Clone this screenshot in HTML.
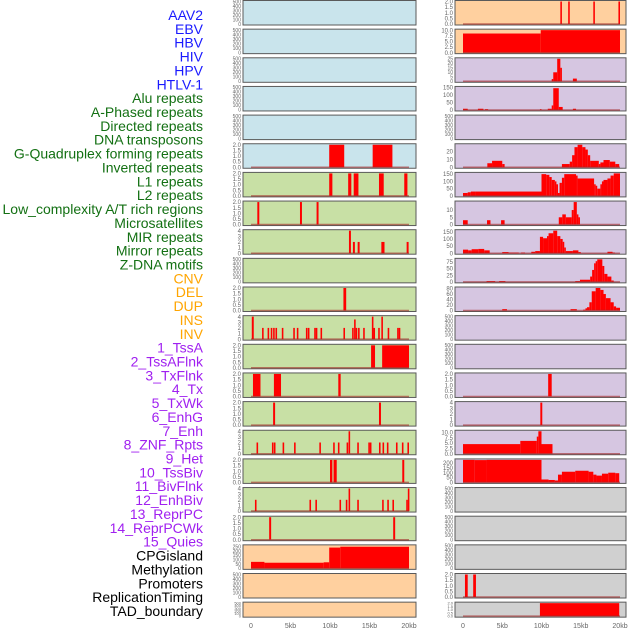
<!DOCTYPE html>
<html><head><meta charset="utf-8">
<style>
html,body{margin:0;padding:0;background:#fff;width:630px;height:630px;overflow:hidden}
svg{display:block}
</style></head>
<body>
<svg id="chart" width="630" height="630" viewBox="0 0 630 630" xmlns="http://www.w3.org/2000/svg"></svg>
<script>
const trackLabels = ["AAV2","EBV","HBV","HIV","HPV","HTLV-1","Alu repeats","A-Phased repeats","Directed repeats","DNA transposons","G-Quadruplex forming repeats","Inverted repeats","L1 repeats","L2 repeats","Low_complexity A/T rich regions","Microsatellites","MIR repeats","Mirror repeats","Z-DNA motifs","CNV","DEL","DUP","INS","INV","1_TssA","2_TssAFlnk","3_TxFlnk","4_Tx","5_TxWk","6_EnhG","7_Enh","8_ZNF_Rpts","9_Het","10_TssBiv","11_BivFlnk","12_EnhBiv","13_ReprPC","14_ReprPCWk","15_Quies","CPGisland","Methylation","Promoters","ReplicationTiming","TAD_boundary"];
const labelGroups = ["v","v","v","v","v","v","r","r","r","r","r","r","r","r","r","r","r","r","r","s","s","s","s","s","c","c","c","c","c","c","c","c","c","c","c","c","c","c","c","o","o","o","o","o"];
const xTickKb = [0,5,10,15,20];
const xTickLabels = ["0","5kb","10kb","15kb","20kb"];

// panel groups (background) per panel, left column then right column
const leftGroups = ["v","v","v","v","v","v","r","r","r","r","r","r","r","r","r","r","r","r","r","s","s","s"];
const rightGroups = ["s","s","c","c","c","c","c","c","c","c","c","c","c","c","c","c","c","o","o","o","o","o"];

// y-axis maxima and tick values
const leftYMax = [500,500,500,500,500,2,2,2,4,500,2,4,2,2,2,4,2,4,2,260,500,500];
const rightYMax = [2,10,25,150,500,28,155,15.5,158,85,82,500,500,2,4,10.5,232,500,500,500,2,2];
const T500=[0,100,200,300,400,500], T2=[0,0.5,1,1.5,2], T4=[0,1,2,3,4];
const leftTicks = [T500,T500,T500,T500,T500,T2,T2,T2,T4,T500,T2,T4,T2,T2,T2,T4,T2,T4,T2,[0,50,100,150,200,250],T500,T500];
const rightTicks = [T2,[0,2.5,5,7.5,10],[0,5,10,15,20,25],[0,50,100,150],T500,[0,10,20],[0,50,100,150],[0,5,10],[0,50,100,150],[0,25,50,75],[0,20,40,60,80],T500,T500,T2,T4,[0,2.5,5,7.5,10],[0,50,100,150,200],T500,T500,T500,T2,T2];

// segments: [startKb, endKb, value]
const L5=[[9.9,11.8,2],[15.4,17.9,2]];
const L6=[[9.9,10.3,2],[12.3,12.7,2],[13.0,13.6,2],[16.2,16.8,2],[19.4,19.8,2]];
const L7=[[0.8,1.05,2],[6.2,6.45,2],[8.3,8.55,2]];
const L8=[[12.4,12.65,4],[12.9,13.15,2],[13.5,13.75,2],[16.5,16.9,2],[19.7,19.95,2]];
const L10=[[11.7,12.05,2]];
const L11=[[0.1,0.35,4],[1.4,1.6,2],[2.1,2.3,2],[2.5,2.7,2],[2.8,3.0,2],[3.1,3.3,2],[3.9,4.1,2],[5.35,5.55,2],[5.8,6.0,2],[6.95,7.15,2],[7.2,7.4,2],[8.0,8.2,2],[8.2,8.4,2],[8.8,9.0,2],[11.7,11.9,2],[12.8,13.0,2],[13.05,13.25,3.5],[13.25,13.45,2],[13.55,13.75,2],[14.2,14.4,2],[15.3,15.5,4],[15.5,15.7,2],[16.1,16.3,2],[16.5,16.7,4],[17.3,17.5,2],[18.5,18.7,2],[18.7,18.9,2]];
const L12=[[15.2,15.7,2],[16.6,20.0,2]];
const L13=[[0.25,1.2,2],[2.9,3.8,2],[11.05,11.35,2]];
const L14=[[2.8,3.05,2],[16.2,16.45,2]];
const L15=[[0.7,0.9,2],[2.65,2.85,2],[2.9,3.1,2],[4.0,4.2,2],[5.45,5.65,2],[8.65,8.85,2],[10.4,10.6,2],[11.0,11.2,2],[12.1,12.3,2],[12.35,12.55,4],[13.45,13.65,2],[14.85,15.05,2],[15.05,15.25,2],[16.2,16.4,2],[16.65,16.85,2],[17.2,17.4,2],[18.35,18.55,2],[19.1,19.3,2],[19.8,20.0,2]];
const L16=[[10.0,10.3,2],[10.45,10.85,2],[19.15,19.4,2]];
const L17=[[0.5,0.7,2],[7.4,7.6,2],[8.15,8.35,2],[11.2,11.4,2],[12.0,12.2,2],[12.35,12.55,4],[13.45,13.65,2],[16.6,16.8,2],[17.25,17.45,2],[17.9,18.1,2],[19.65,19.85,2],[19.85,20.05,4]];
const L18=[[2.3,2.55,2],[18.0,18.25,2]];
const L19=[[0,1.7,75],[1.7,9.2,65],[9.2,9.9,70],[9.9,11.3,240],[11.3,20,250]];
const R0=[[12.4,12.6,2],[13.4,13.6,2],[16.6,16.8,2],[19.8,20.0,2]];
const R1=[[0,9.9,8.5],[9.9,20,10]];
const R2=[[11.3,11.5,2.5],[11.5,12.0,10],[12.0,12.4,25],[12.4,12.6,15],[14.0,14.5,3]];
const R3=[[0,0.6,8],[1.9,2.6,8],[2.8,3.2,5],[9.8,10.0,5],[10.8,11.3,8],[11.3,11.5,30],[11.5,12.2,145],[12.2,12.7,20],[14.0,14.4,8]];
const R5=[[3.1,3.7,5],[3.7,5.0,8],[5.0,5.3,4],[12.6,13.6,4],[13.6,13.9,7],[13.9,14.2,15],[14.2,14.6,25],[14.6,15.2,28],[15.2,15.6,25],[15.6,15.9,22],[15.9,16.2,15],[16.2,17.3,8],[17.3,17.5,4],[17.5,17.9,6],[17.9,18.7,9],[18.7,19.4,7],[19.4,19.9,4]];
const R6=[[0,0.6,20],[0.6,1.0,25],[1.0,1.6,30],[1.6,10.0,30],[10.0,10.6,150],[10.6,11.0,145],[11.0,11.3,130],[11.3,11.7,110],[11.7,11.9,100],[11.9,12.1,80],[12.1,12.3,20],[12.3,12.6,90],[12.6,12.9,125],[12.9,14.4,150],[14.4,14.6,140],[14.6,16.7,120],[16.7,16.9,80],[16.9,17.1,70],[17.1,17.5,50],[17.5,17.7,80],[17.7,17.9,100],[17.9,18.4,110],[18.4,18.8,120],[18.8,19.2,140],[19.2,20,155]];
const R7=[[0,0.6,3],[3.06,3.5,3],[4.85,5.3,3],[12.2,12.65,5],[12.65,13.1,7],[13.1,13.85,5],[13.85,14.1,10],[14.1,14.5,16],[14.5,14.7,7],[14.7,14.9,5]];
const R8=[[0,0.65,25],[0.65,1.1,20],[1.1,1.95,28],[1.95,2.7,30],[2.7,3.4,20],[5.0,5.8,8],[5.8,7.1,5],[7.4,7.9,5],[8.7,9.2,10],[9.2,9.8,15],[9.8,10.2,115],[10.2,10.7,105],[10.7,10.9,120],[10.9,11.5,140],[11.5,12.0,160],[12.0,12.4,120],[12.4,12.7,100],[12.7,12.9,80],[12.9,13.1,40],[13.1,14.0,15],[14.0,14.7,20],[14.7,15.0,8],[18.4,19.05,10],[19.05,19.35,5]];
const R9=[[3.0,4.1,3],[4.6,5.4,3],[14.3,14.9,3],[14.9,16.2,8],[16.2,16.45,20],[16.45,16.7,45],[16.7,16.9,70],[16.9,17.1,78],[17.1,17.75,85],[17.75,18.0,60],[18.0,18.4,30],[18.4,18.9,20],[18.9,19.2,5]];
const R10=[[5.0,5.6,5],[13.7,14.5,5],[15.3,15.6,3],[15.6,15.8,8],[15.8,16.1,12],[16.1,16.4,30],[16.4,16.9,70],[16.9,17.5,82],[17.5,17.9,75],[17.9,18.2,60],[18.2,18.8,45],[18.8,19.2,30],[19.2,19.5,15],[19.5,20,10]];
const R13=[[10.85,11.3,2]];
const R14=[[9.85,10.1,4]];
const R15=[[0,7.3,4.5],[7.3,9.4,6],[9.4,9.6,8],[9.6,10.0,10.5],[10.0,11.4,4.5]];
const R16=[[0,1.5,240],[1.5,3.0,230],[3.0,10.0,240],[10.0,10.9,30],[10.9,11.7,25],[11.7,12.1,20],[12.1,12.6,80],[12.6,14.3,110],[14.3,16.0,120],[16.0,16.6,110],[16.6,17.0,80],[17.0,17.7,70],[17.7,18.5,90],[18.5,19.4,100],[19.4,19.9,95]];
const R20=[[0.25,0.6,2],[1.3,1.65,2]];
const R21=[[9.8,19.9,2]];

const leftSeries=[null,null,null,null,null,L5,L6,L7,L8,null,L10,L11,L12,L13,L14,L15,L16,L17,L18,L19,null,null];
const rightSeries=[R0,R1,R2,R3,null,R5,R6,R7,R8,R9,R10,null,null,R13,R14,R15,R16,null,null,null,R20,R21];

const NS="http://www.w3.org/2000/svg";
const svg=document.getElementById('chart');
const bgColors={v:"#c9e4ec",r:"#c8e0a5",s:"#ffd09f",c:"#d6c6e1",o:"#d0d0d0"};
const textColors={v:"#1a1aff",r:"#137013",s:"#ffa500",c:"#a020f0",o:"#000000"};
function mk(tag,attrs){const e=document.createElementNS(NS,tag);for(const k in attrs)e.setAttribute(k,attrs[k]);svg.appendChild(e);return e;}

// labels
trackLabels.forEach((lab,i)=>{
  const t=mk('text',{x:203,y:(20+i*13.86).toFixed(1),'text-anchor':'end','font-family':'Liberation Sans, sans-serif','font-size':'14',fill:textColors[labelGroups[i]]});
  t.textContent=lab;
  
  
});

const cols=[
 {x0:243,x1:416,kb0:251,kbScale:7.9,groups:leftGroups,ymax:leftYMax,ticks:leftTicks,series:leftSeries,side:'left'},
 {x0:455,x1:626,kb0:463,kbScale:7.85,groups:rightGroups,ymax:rightYMax,ticks:rightTicks,series:rightSeries,side:'right'}
];
cols.forEach(col=>{
  const xs=kb=>col.kb0+kb*col.kbScale;
  for(let i=0;i<22;i++){
    const top=i*28.65+0.5, h=(i===21)?15:24.5;
    const bottom=top+h;
    const ys=v=>(bottom-1)-(v/col.ymax[i])*(h-2);
    const bg=mk('rect',{x:col.x0,y:top,width:col.x1-col.x0,height:h,fill:bgColors[col.groups[i]],stroke:'#5a5a5a','stroke-width':1});
    
    
    // ticks
    const tk=col.ticks[i];
    const fs=(i===21)?4:(tk.length>5?5:6);
    tk.forEach(v=>{
      const lbl=(tk===T2||tk[1]===2.5)?v.toFixed(1):String(v);
      const t=mk('text',{x:col.x0-2,y:(ys(v)+fs*0.35).toFixed(1),'text-anchor':'end','font-family':'Liberation Sans, sans-serif','font-size':fs,fill:'#666'});
      t.textContent=lbl;
      
      
    });
    const segs=col.series[i];
    if(segs){
      segs.forEach(s=>{
        const v=Math.min(s[2],col.ymax[i]);
        const r=mk('rect',{x:xs(s[0]).toFixed(2),y:ys(v).toFixed(2),width:Math.max(1.5,xs(s[1])-xs(s[0])).toFixed(2),height:(ys(0)-ys(v)).toFixed(2),fill:'#ff0000'});
        
        
      });
      const bl=mk('line',{x1:xs(0),x2:xs(20),y1:ys(0),y2:ys(0),stroke:'rgba(160,40,40,0.6)','stroke-width':1.5});
      
      
    }
  }
  xTickKb.forEach((kb,j)=>{
    const t=mk('text',{x:xs(kb),y:628,'text-anchor':'middle','font-family':'Liberation Sans, sans-serif','font-size':7,fill:'#666'});
    t.textContent=xTickLabels[j];
    
    
  });
});
</script>
</body></html>
